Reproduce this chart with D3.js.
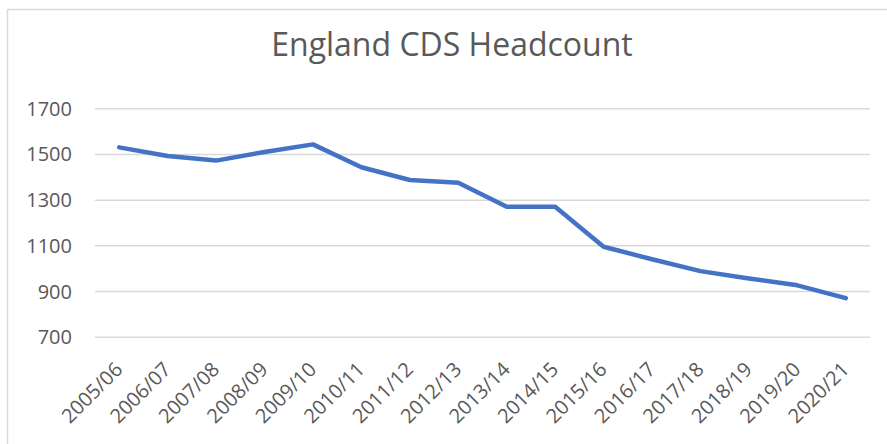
<!DOCTYPE html>
<html>
<head>
<meta charset="utf-8">
<script src="https://cdn.jsdelivr.net/npm/d3@7"></script>
<style>
  body { margin: 0; background: #fff; }
  text { font-family: "Open Sans", sans-serif; fill: #595959; }
</style>
</head>
<body>
<div id="chart"></div>
<script>
var years = ["2005/06", "2006/07", "2007/08", "2008/09", "2009/10", "2010/11", "2011/12", "2012/13",
             "2013/14", "2014/15", "2015/16", "2016/17", "2017/18", "2018/19", "2019/20", "2020/21"];
var headcount = [1529, 1491, 1471, 1509, 1542, 1442, 1386, 1374, 1269, 1269, 1094, 1039, 987, 955, 925, 869];
var yTicks = [700, 900, 1100, 1300, 1500, 1700];
var title = "England CDS Headcount";

var width = 887,
    height = 444,
    plotLeft = 95,
    plotRight = 870,
    plotTop = 108.3,
    plotBottom = 336.7;

var svg = d3.select("#chart")
            .append("svg")
            .attr("width", width)
            .attr("height", height);

// chart frame, runs off the right and bottom edge like the screenshot
svg.append("rect")
   .attr("x", 7.5)
   .attr("y", 9.5)
   .attr("width", 1000)
   .attr("height", 1000)
   .attr("fill", "none")
   .attr("stroke", "#d9d9d9")
   .attr("stroke-width", 1.5);

svg.append("text")
   .attr("x", 452)
   .attr("y", 56)
   .attr("text-anchor", "middle")
   .style("font-size", "32px")
   .text(title);

var x = d3.scalePoint()
          .domain(years)
          .range([plotLeft, plotRight])
          .padding(0.5);

var y = d3.scaleLinear()
          .domain([700, 1700])
          .range([plotBottom, plotTop]);

var yAxis = svg.append("g")
               .attr("transform", `translate(${plotLeft},0)`)
               .call(d3.axisLeft(y).tickValues(yTicks).tickSize(-(plotRight - plotLeft)).tickFormat(d3.format("d")));

yAxis.select(".domain").remove();
yAxis.selectAll(".tick line")
     .attr("stroke", "#d9d9d9")
     .attr("stroke-width", 1.5);
yAxis.selectAll(".tick text")
     .attr("x", 72 - plotLeft)
     .attr("dy", "0.35em")
     .style("font-size", "20px")
     .attr("fill", "#595959");

var xAxis = svg.append("g")
               .attr("transform", `translate(0,${plotBottom})`)
               .call(d3.axisBottom(x).tickSize(0));

xAxis.select(".domain").remove();
xAxis.selectAll(".tick text")
     .attr("text-anchor", "end")
     .attr("x", 0)
     .attr("y", 0)
     .attr("dy", 0)
     .attr("transform", "translate(4,34) rotate(-45)")
     .style("font-size", "20px")
     .attr("fill", "#595959");

var line = d3.line()
             .x((d, i) => { return x(years[i]); })
             .y((d) => { return y(d); });

svg.append("path")
   .datum(headcount)
   .attr("d", line)
   .attr("fill", "none")
   .attr("stroke", "#4472c4")
   .attr("stroke-width", 4.5)
   .attr("stroke-linejoin", "round")
   .attr("stroke-linecap", "round");
</script>
</body>
</html>
